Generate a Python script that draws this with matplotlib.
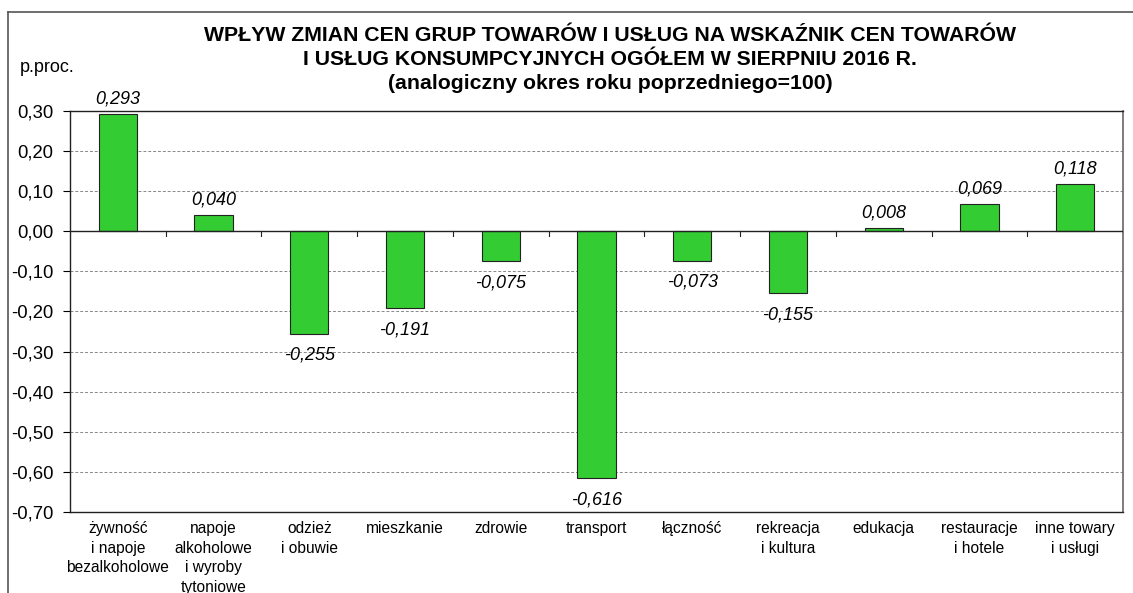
import matplotlib
matplotlib.use("Agg")
import matplotlib.pyplot as plt
from matplotlib.lines import Line2D
from matplotlib.ticker import FuncFormatter, MultipleLocator

categories = ["żywność\ni napoje\nbezalkoholowe", "napoje\nalkoholowe\ni wyroby\ntytoniowe",
              "odzież\ni obuwie", "mieszkanie", "zdrowie", "transport", "łączność",
              "rekreacja\ni kultura", "edukacja", "restauracje\ni hotele", "inne towary\ni usługi"]
values = [0.293, 0.040, -0.255, -0.191, -0.075, -0.616, -0.073, -0.155, 0.008, 0.069, 0.118]

title = ("WPŁYW ZMIAN CEN GRUP TOWARÓW I USŁUG NA WSKAŹNIK CEN TOWARÓW\n"
         "I USŁUG KONSUMPCYJNYCH OGÓŁEM W SIERPNIU 2016 R.\n"
         "(analogiczny okres roku poprzedniego=100)")

plt.rcParams["font.family"] = ["Liberation Sans", "DejaVu Sans"]

fig = plt.figure(figsize=(11.33, 5.93), dpi=100)
ax = fig.add_axes([70 / 1133, 1 - 512 / 593, (1123 - 70) / 1133, (512 - 111) / 593])

x = range(len(values))
ax.bar(x, values, width=0.4, color="#33cc33", edgecolor="#222222", linewidth=0.8, zorder=3)
ax.set_xlim(-0.5, len(values) - 0.5)
ax.set_ylim(-0.70, 0.30)
ax.yaxis.set_major_locator(MultipleLocator(0.1))
ax.yaxis.set_major_formatter(FuncFormatter(lambda v, p: f"{v:.2f}".replace(".", ",").replace("-0,00", "0,00")))
ax.grid(axis="y", color="#888888", linestyle=(0, (3, 2)), linewidth=0.7, zorder=0)
ax.tick_params(axis="y", labelsize=13.3, length=5, width=0.8, direction="out", pad=7)

# category labels below plot, ticks on zero line
ax.set_xticks([])
for i, lab in enumerate(categories):
    ax.text(i, -0.722, lab, ha="center", va="top", fontsize=11.2, linespacing=1.4, clip_on=False)
for b in range(1, len(values)):
    ax.plot([b - 0.5, b - 0.5], [0, -0.012], color="#222222", lw=0.8, zorder=4)
ax.axhline(0, color="#222222", lw=1.0, zorder=4)

for sp in ["left", "top", "bottom"]:
    ax.spines[sp].set_color("#222222")
    ax.spines[sp].set_linewidth(1.0)
ax.spines["right"].set_color("#666666")
ax.spines["right"].set_linewidth(1.2)

for i, v in enumerate(values):
    lab = f"{v:.3f}".replace(".", ",")
    if v >= 0:
        ax.text(i, v + 0.016, lab, ha="center", va="bottom", fontsize=13, style="italic", zorder=5)
    else:
        ax.text(i, v - 0.033, lab, ha="center", va="top", fontsize=13, style="italic", zorder=5)

fig.text(610 / 1133, 1 - 26 / 593, title, ha="center", va="top", fontsize=15.3, fontweight="bold",
         linespacing=1.32)
fig.text(20 / 1133, 1 - 67 / 593, "p.proc.", ha="left", va="center", fontsize=13)

# outer chart frame
fig.add_artist(Line2D([8 / 1133, 8 / 1133], [0, 1 - 12 / 593], color="#555555", lw=1.2))
fig.add_artist(Line2D([8 / 1133, 1], [1 - 12 / 593, 1 - 12 / 593], color="#555555", lw=1.2))

fig.savefig("out.png", dpi=100)
